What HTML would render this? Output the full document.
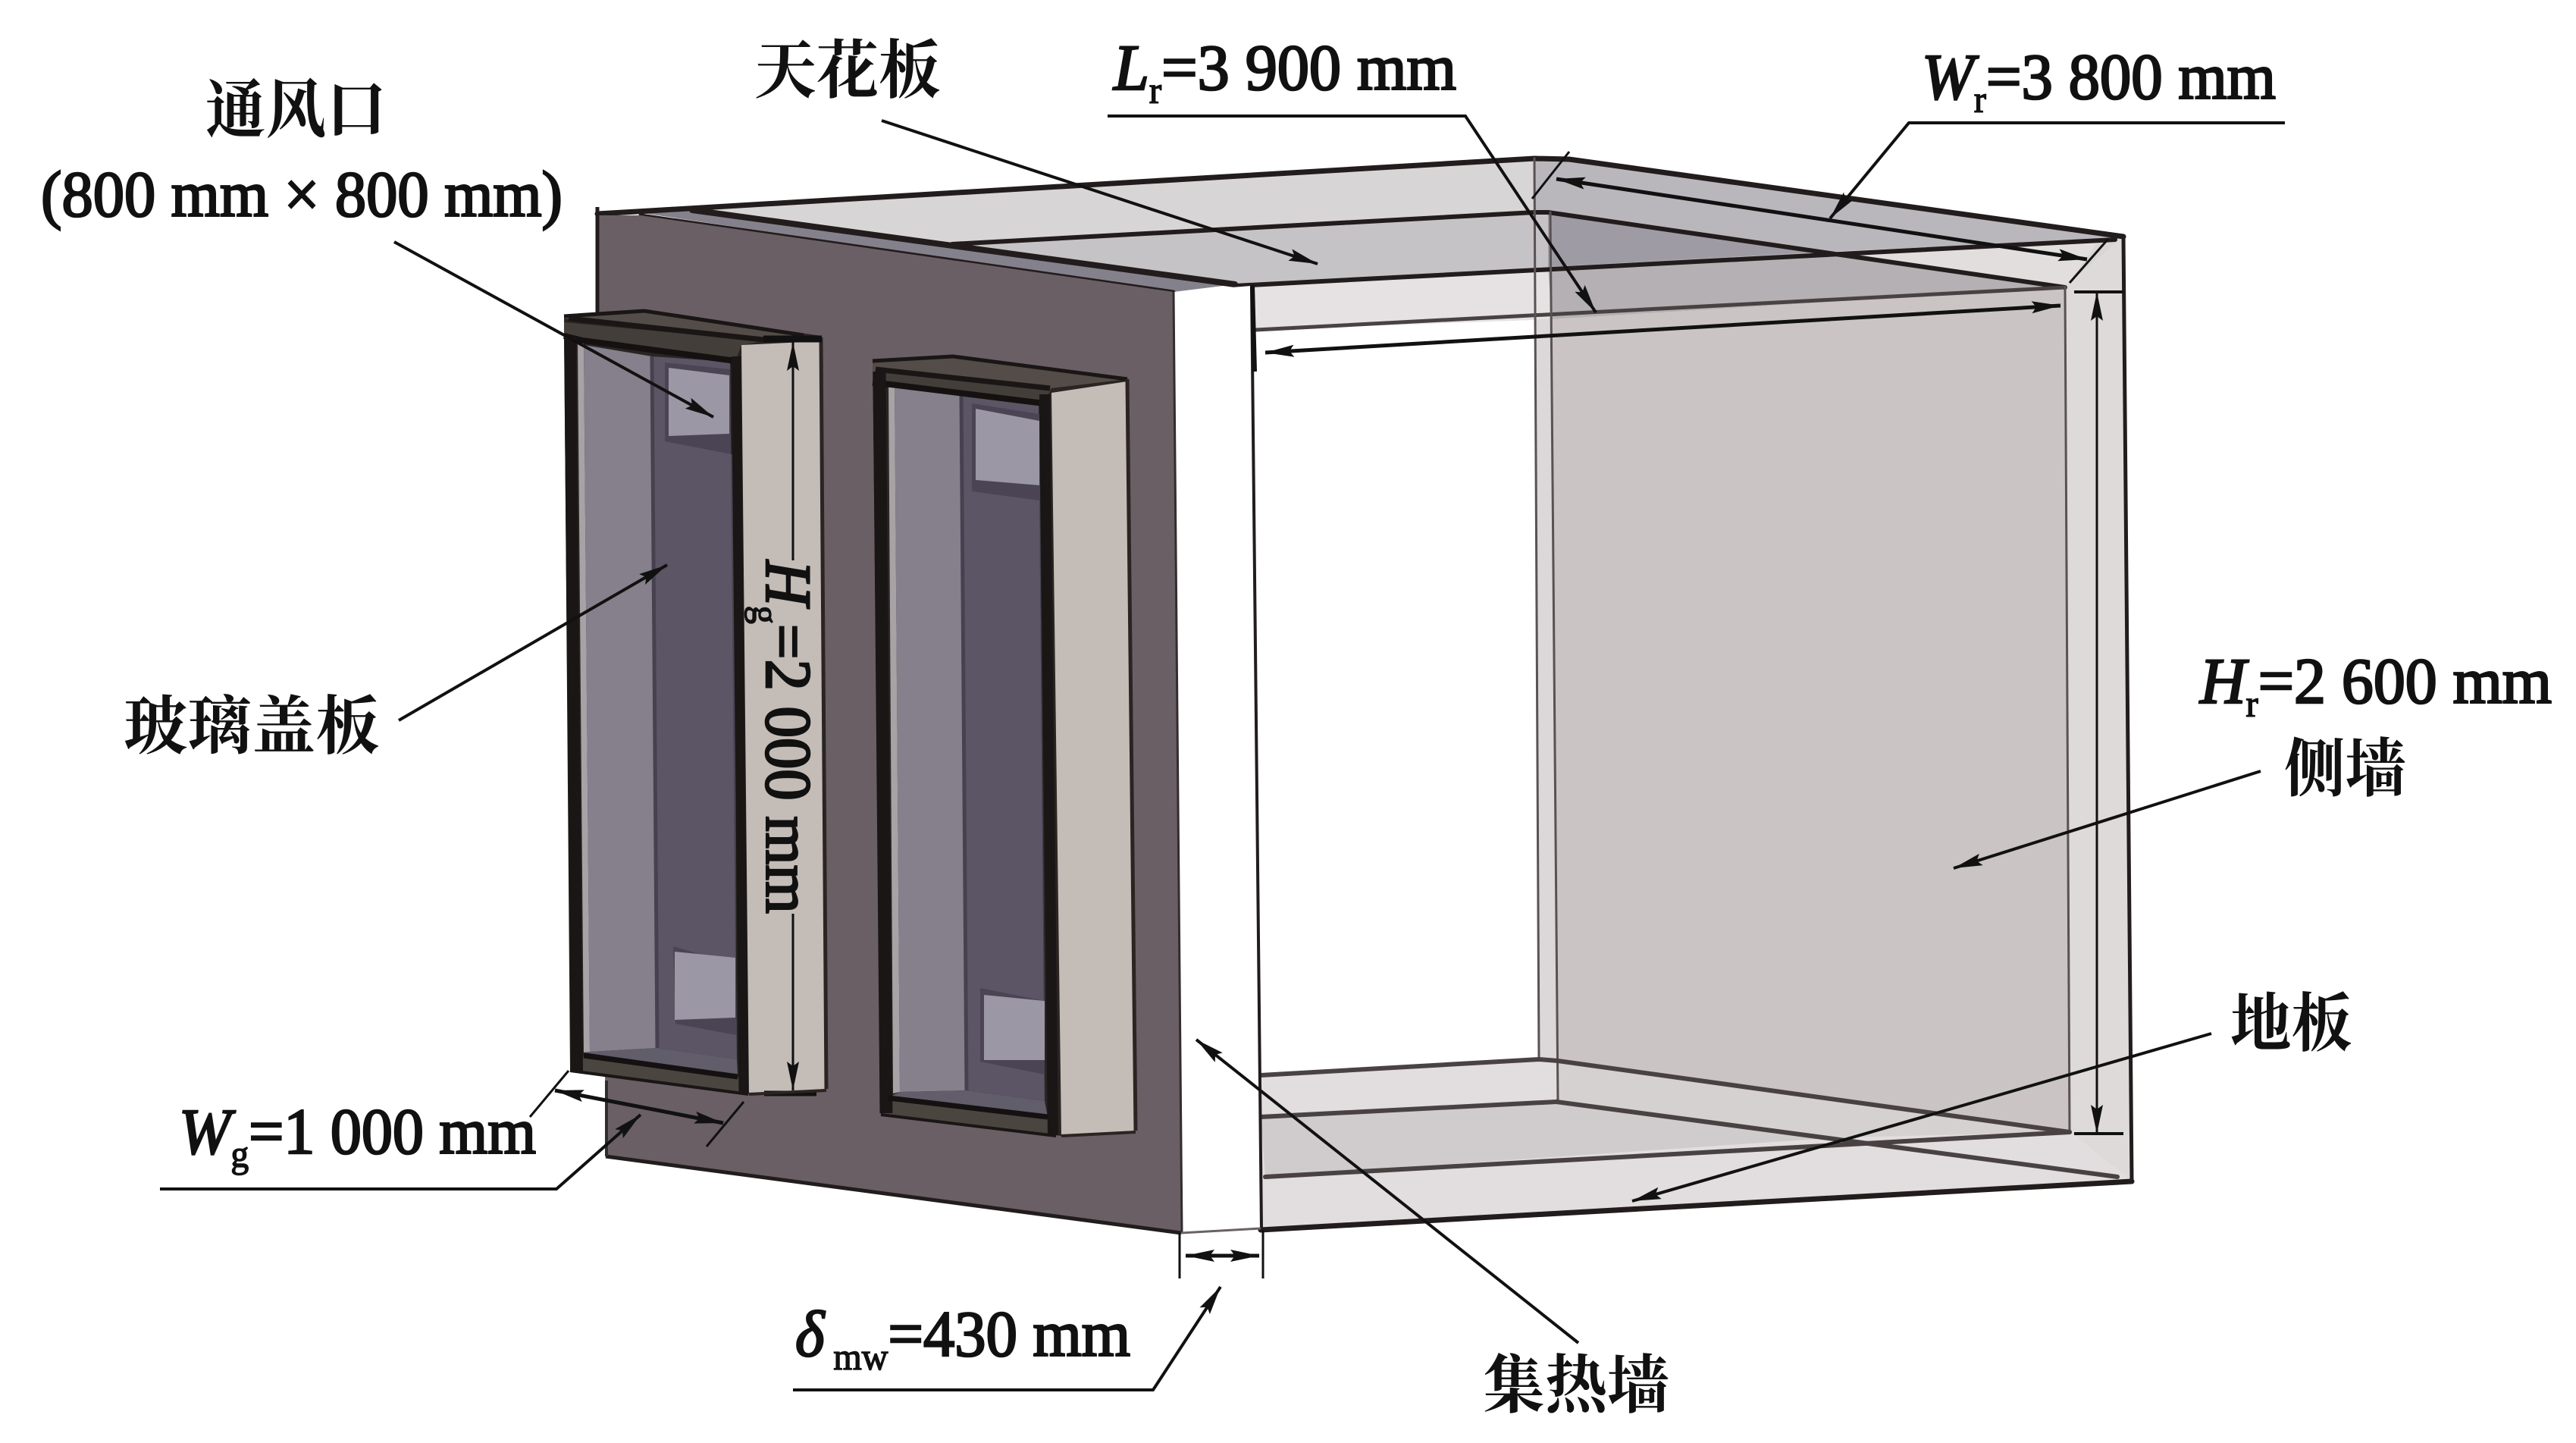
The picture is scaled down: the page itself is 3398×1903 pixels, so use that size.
<!DOCTYPE html>
<html><head><meta charset="utf-8"><style>
html,body{margin:0;padding:0;background:#fff;width:3398px;height:1903px;overflow:hidden}
svg{display:block}
text{fill:#111;font-family:"Liberation Serif","Noto Serif CJK SC",serif}
.c{font-family:"Liberation Serif","Noto Serif CJK SC",serif;font-size:84px;font-weight:700}
.n{font-size:86px;font-weight:400;stroke:#111;stroke-width:2.6px}
.i{font-style:italic}
.s{font-size:50px;stroke-width:1.5px}
</style></head><body>
<svg width="3398" height="1903" viewBox="0 0 3398 1903" xmlns="http://www.w3.org/2000/svg">
<defs>
<marker id="a" markerUnits="userSpaceOnUse" markerWidth="40" markerHeight="18" refX="38" refY="9" orient="auto-start-reverse"><path d="M0 1 L38 9 L0 17 L6 9 Z" fill="#111"/></marker>
</defs>

<!-- ceiling -->
<polygon points="901,275 2024,209 2070,210 2801,312 2724,379 2047,421 1657,435 1629,375" fill="#d8d5d6"/>
<polygon points="1256,322 2024,280 2042,282 2042,352 1629,377" fill="#c6c3c6"/>
<polygon points="2024,209 2070,210 2801,312 2770,316 2391,333 2042,282 2024,280" fill="#bab7bc"/>
<polygon points="2042,282 2391,333 2042,352" fill="#9e9ba4"/>
<polygon points="1646,380 2042,352 2047,421 1657,435" fill="#e6e2e3"/>
<polygon points="2042,352 2391,333 2724,379 2047,421" fill="#b4b0b3"/>
<polygon points="2391,333 2770,316 2724,379" fill="#e2dedd"/>
<polygon points="840,280 913,277 1629,375 1548,385" fill="#85818c"/>

<!-- side wall & frame -->
<polygon points="2047,421 2724,379 2730,1493 2055,1399" fill="#cbc4c4"/>
<polygon points="2801,312 2812,1558 2730,1493 2724,379" fill="#dfdada"/>
<polygon points="2024,421 2047,421 2055,1399 2030,1397" fill="#dcd7d8"/>

<!-- floor -->
<polygon points="1663,1418 2030,1397 2055,1399 2730,1493 2812,1558 1663,1622" fill="#e2dddf"/>
<polygon points="1663,1473 2053,1453 2426,1500 1669,1552" fill="#d0cccd"/>
<polygon points="2055,1399 2730,1493 2426,1500 2053,1453" fill="#d5d1d1"/>

<!-- room lines -->
<g fill="none" stroke="#221c1c" stroke-linecap="round">
<polyline points="788,282 840,279 2024,209 2070,210 2801,312" stroke-width="7"/>
<line x1="1629" y1="377" x2="2790" y2="316" stroke-width="6"/>
<line x1="845" y1="284" x2="1548" y2="385" stroke-width="5"/>
<line x1="913" y1="277" x2="1629" y2="375" stroke-width="8"/>
<polyline points="1256,322 2024,280 2042,280 2724,379" stroke-width="6"/>
<line x1="1657" y1="435" x2="2724" y2="379" stroke-width="5" stroke="#4a4242"/>
<line x1="2024" y1="209" x2="2030" y2="1397" stroke-width="3" stroke="#5a5252"/>
<line x1="2045" y1="280" x2="2055" y2="1453" stroke-width="3" stroke="#5a5252"/>
<line x1="2724" y1="379" x2="2730" y2="1493" stroke-width="3" stroke="#5a5252"/>
<line x1="2801" y1="312" x2="2812" y2="1558" stroke-width="5"/>
<polyline points="1663,1418 2030,1397 2055,1399 2730,1493" stroke-width="6" stroke="#4a4242"/>
<polyline points="1663,1473 2053,1453 2793,1552" stroke-width="6" stroke="#4a4242"/>
<line x1="1669" y1="1552" x2="2730" y2="1493" stroke-width="6" stroke="#4a4242"/>
<line x1="1663" y1="1622" x2="2812" y2="1558" stroke-width="7"/>
</g>

<!-- front wall -->
<polygon points="788,284 845,284 1548,385 1560,1626 799,1525" fill="#6a5f65"/>
<polygon points="1548,385 1650,377 1664,1619 1560,1628" fill="#fff"/>
<line x1="1548" y1="385" x2="1559" y2="1626" stroke="#332d2d" stroke-width="3"/>
<line x1="799" y1="1525" x2="1558" y2="1626" stroke="#221d1d" stroke-width="5"/>
<line x1="788" y1="273" x2="788" y2="420" stroke="#221c1c" stroke-width="5"/>
<line x1="800" y1="1425" x2="800" y2="1525" stroke="#332d2d" stroke-width="4"/>
<line x1="1651" y1="377" x2="1664" y2="1622" stroke="#221c1c" stroke-width="4"/>
<line x1="1652" y1="376" x2="1655" y2="490" stroke="#111" stroke-width="6"/>
<line x1="1558" y1="1626" x2="1663" y2="1620" stroke="#6a6262" stroke-width="3"/>

<!-- window 1 -->
<polygon points="744,417 850,410 1084,443 1090,1438 988,1443 752,1412" fill="#2a2523"/>
<polygon points="978,455 1082,450 1090,1436 988,1443" fill="#c4bcb7"/>
<polygon points="762,450 770,450 778,1387 770,1388" fill="#a8a2a6"/>
<polygon points="770,455 860,470 867,1382 778,1387" fill="#85808c"/>
<polygon points="860,470 963,477 972,1397 867,1382" fill="#5b5565"/>
<polygon points="877,478 963,487 970,1272 888,1248 891,1350 971,1365 970,600 877,582" fill="#4a4454"/>
<polygon points="882,485 962,495 962,572 882,575" fill="#9b97a5"/>
<polygon points="890,1255 970,1263 970,1342 890,1345" fill="#9b97a5"/>
<line x1="860" y1="470" x2="867" y2="1382" stroke="#47414f" stroke-width="5"/>
<polygon points="778,1387 867,1382 972,1397 973,1417 770,1388" fill="#615d6a"/>
<polygon points="752,1412 770,1392 973,1420 987,1443" fill="#4b4540"/>
<polygon points="744,417 850,410 1060,440 1007,448 744,420" fill="#544c48"/>
<polygon points="744,425 1007,450 978,455 970,476 768,452 744,445" fill="#443e3a"/>
<polyline points="744,443 768,449 970,476" fill="none" stroke="#151110" stroke-width="8"/>
<line x1="750" y1="420" x2="1007" y2="448" stroke="#1a1615" stroke-width="7"/>
<polyline points="744,417 850,410 1060,442" fill="none" stroke="#1a1615" stroke-width="5"/>
<line x1="752" y1="445" x2="761" y2="1412" stroke="#1a1615" stroke-width="16"/>
<line x1="971" y1="470" x2="981" y2="1442" stroke="#1a1615" stroke-width="13"/>
<line x1="770" y1="1392" x2="973" y2="1420" stroke="#151110" stroke-width="7"/>
<line x1="752" y1="1412" x2="987" y2="1443" stroke="#1a1615" stroke-width="4"/>
<line x1="1083" y1="445" x2="1090" y2="1436" stroke="#2a2523" stroke-width="5"/>
<line x1="1007" y1="447" x2="1084" y2="447" stroke="#111" stroke-width="9"/>
<line x1="1008" y1="1442" x2="1077" y2="1442" stroke="#111" stroke-width="7"/>
<line x1="988" y1="1443" x2="1090" y2="1438" stroke="#2a2523" stroke-width="4"/>

<!-- window 2 -->
<polygon points="1151,476 1257,470 1487,500 1498,1493 1400,1498 1162,1470" fill="#2a2523"/>
<polygon points="1387,518 1487,503 1498,1491 1400,1497" fill="#c4bcb7"/>
<polygon points="1172,500 1180,500 1187,1440 1178,1442" fill="#a8a2a6"/>
<polygon points="1180,510 1268,518 1275,1438 1187,1440" fill="#85808c"/>
<polygon points="1268,518 1370,530 1378,1452 1275,1438" fill="#5b5565"/>
<polygon points="1282,532 1371,546 1378,1320 1293,1303 1293,1400 1378,1417 1371,660 1282,648" fill="#4a4454"/>
<polygon points="1287,539 1371,555 1371,640 1287,633" fill="#9b97a5"/>
<polygon points="1298,1312 1378,1320 1378,1398 1298,1398" fill="#9b97a5"/>
<line x1="1268" y1="518" x2="1275" y2="1438" stroke="#47414f" stroke-width="5"/>
<polygon points="1187,1440 1275,1438 1378,1452 1382,1473 1172,1447" fill="#615d6a"/>
<polygon points="1162,1470 1172,1447 1382,1473 1393,1498" fill="#4b4540"/>
<polygon points="1151,476 1257,470 1487,500 1387,512 1151,490" fill="#544c48"/>
<polygon points="1151,490 1387,512 1377,532 1151,507" fill="#443e3a"/>
<polyline points="1151,505 1175,507 1377,532" fill="none" stroke="#151110" stroke-width="8"/>
<line x1="1155" y1="487" x2="1385" y2="512" stroke="#1a1615" stroke-width="7"/>
<polyline points="1151,476 1257,470 1487,500" fill="none" stroke="#1a1615" stroke-width="5"/>
<line x1="1160" y1="490" x2="1169" y2="1468" stroke="#1a1615" stroke-width="17"/>
<line x1="1378" y1="520" x2="1389" y2="1497" stroke="#1a1615" stroke-width="14"/>
<line x1="1172" y1="1448" x2="1382" y2="1473" stroke="#151110" stroke-width="7"/>
<line x1="1162" y1="1470" x2="1393" y2="1498" stroke="#1a1615" stroke-width="4"/>
<line x1="1487" y1="500" x2="1498" y2="1491" stroke="#2a2523" stroke-width="5"/>
<line x1="1400" y1="1498" x2="1498" y2="1493" stroke="#2a2523" stroke-width="4"/>

<!-- leaders and dimensions -->
<g fill="none" stroke="#111" stroke-width="4">
<line x1="520" y1="319" x2="941" y2="550" marker-end="url(#a)"/>
<line x1="1163" y1="159" x2="1738" y2="348" marker-end="url(#a)"/>
<polyline points="1461,153 1933,153 2105,412" marker-end="url(#a)"/>
<polyline points="3014,162 2518,162 2414,288" marker-end="url(#a)"/>
<line x1="2053" y1="236" x2="2753" y2="342" marker-start="url(#a)" marker-end="url(#a)" stroke-width="5"/>
<line x1="2070" y1="200" x2="2021" y2="262" stroke-width="3"/>
<line x1="2781" y1="315" x2="2730" y2="373" stroke-width="3"/>
<line x1="1669" y1="465" x2="2718" y2="403" marker-start="url(#a)" marker-end="url(#a)" stroke-width="5"/>
<line x1="2766" y1="385" x2="2766" y2="1495" marker-start="url(#a)" marker-end="url(#a)" stroke-width="3"/>
<line x1="2736" y1="385" x2="2801" y2="385" stroke-width="4"/>
<line x1="2736" y1="1495" x2="2801" y2="1495" stroke-width="4"/>
<line x1="1046" y1="739" x2="1046" y2="451" marker-end="url(#a)" stroke-width="3"/>
<line x1="1046" y1="1205" x2="1046" y2="1438" marker-end="url(#a)" stroke-width="3"/>
<line x1="526" y1="950" x2="880" y2="745" marker-end="url(#a)"/>
<line x1="732" y1="1438" x2="954" y2="1481" marker-start="url(#a)" marker-end="url(#a)" stroke-width="5"/>
<line x1="750" y1="1412" x2="699" y2="1473" stroke-width="3"/>
<line x1="981" y1="1453" x2="932" y2="1512" stroke-width="3"/>
<polyline points="211,1568 734,1568 845,1470" marker-end="url(#a)"/>
<line x1="1564" y1="1656" x2="1661" y2="1656" marker-start="url(#a)" marker-end="url(#a)" stroke-width="5"/>
<line x1="1556" y1="1626" x2="1556" y2="1686" stroke-width="3"/>
<line x1="1666" y1="1622" x2="1666" y2="1686" stroke-width="3"/>
<polyline points="1046,1833 1521,1833 1610,1697" marker-end="url(#a)"/>
<line x1="2082" y1="1771" x2="1578" y2="1371" marker-end="url(#a)"/>
<line x1="2982" y1="1017" x2="2577" y2="1145" marker-end="url(#a)"/>
<line x1="2917" y1="1363" x2="2153" y2="1584" marker-end="url(#a)"/>
</g>

<!-- labels -->
<text class="c" x="271" y="174" textLength="239" lengthAdjust="spacingAndGlyphs">通风口</text>
<text class="n" x="54" y="285" textLength="688" lengthAdjust="spacingAndGlyphs">(800 mm × 800 mm)</text>
<text class="c" x="995" y="122" textLength="246" lengthAdjust="spacingAndGlyphs">天花板</text>
<text class="n" x="1469" y="118" textLength="452" lengthAdjust="spacingAndGlyphs"><tspan class="i">L</tspan><tspan class="s" dy="18">r</tspan><tspan dy="-18">=3 900 mm</tspan></text>
<text class="n" x="2535" y="130" textLength="467" lengthAdjust="spacingAndGlyphs"><tspan class="i">W</tspan><tspan class="s" dy="18">r</tspan><tspan dy="-18">=3 800 mm</tspan></text>
<text class="n" x="2902" y="927" textLength="464" lengthAdjust="spacingAndGlyphs"><tspan class="i">H</tspan><tspan class="s" dy="18">r</tspan><tspan dy="-18">=2 600 mm</tspan></text>
<text class="c" x="3013" y="1043" textLength="161" lengthAdjust="spacingAndGlyphs">侧墙</text>
<text class="c" x="2942" y="1379" textLength="161" lengthAdjust="spacingAndGlyphs">地板</text>
<text class="c" x="1956" y="1856" textLength="246" lengthAdjust="spacingAndGlyphs">集热墙</text>
<text class="c" x="163" y="987" textLength="338" lengthAdjust="spacingAndGlyphs">玻璃盖板</text>
<text class="n" x="236" y="1521" textLength="471" lengthAdjust="spacingAndGlyphs"><tspan class="i">W</tspan><tspan class="s" dy="18">g</tspan><tspan dy="-18">=1 000 mm</tspan></text>
<text class="n" x="1049" y="1788" textLength="442" lengthAdjust="spacingAndGlyphs"><tspan class="i">δ</tspan><tspan class="s" dy="18"> mw</tspan><tspan dy="-18">=430 mm</tspan></text>
<text class="n" transform="translate(1011,739) rotate(90)" x="0" y="0" textLength="466" lengthAdjust="spacingAndGlyphs"><tspan class="i">H</tspan><tspan class="s" dy="18">g</tspan><tspan dy="-18">=2 000 mm</tspan></text>
</svg>
</body></html>
